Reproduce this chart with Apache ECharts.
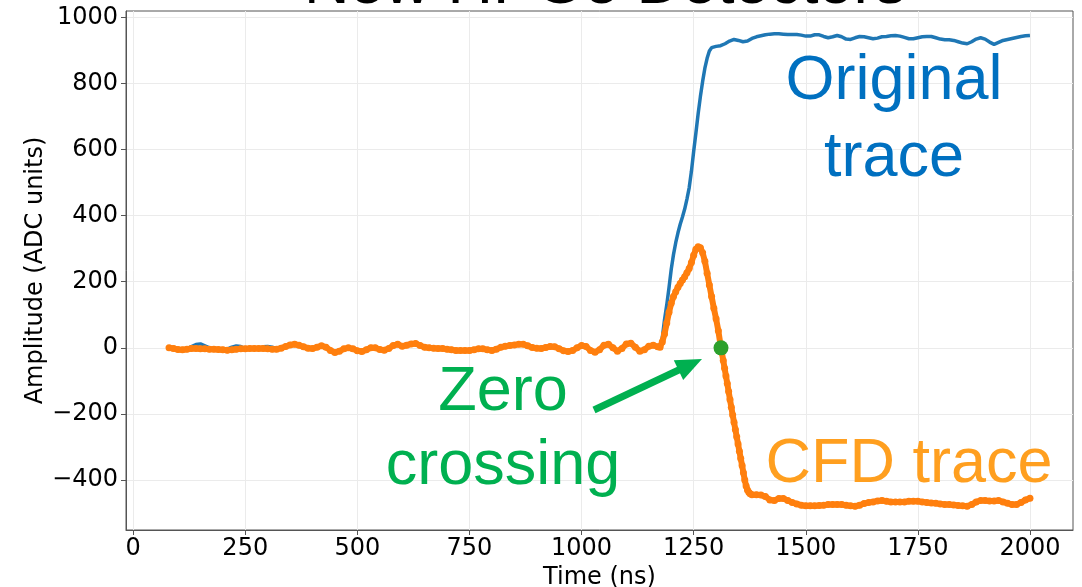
<!DOCTYPE html>
<html>
<head>
<meta charset="utf-8">
<script src="https://cdn.jsdelivr.net/npm/echarts@6/dist/echarts.min.js"></script>
<style>
  html, body { margin: 0; padding: 0; background: #fff; }
  #chart { width: 1082px; height: 587px; }
</style>
</head>
<body>
<div id="chart"></div>
<script>
// Original preamplifier trace: sample times (ns) and amplitudes (ADC units)
const origTime = [
  80, 90, 100, 110, 120, 130, 140, 150, 160, 170,
  180, 190, 200, 210, 220, 230, 240, 250, 260, 270,
  280, 290, 300, 310, 320, 330, 340, 350, 360, 370,
  380, 390, 400, 410, 420, 430, 440, 450, 460, 470,
  480, 490, 500, 510, 520, 530, 540, 550, 560, 570,
  580, 590, 600, 610, 620, 630, 640, 650, 660, 670,
  680, 690, 700, 710, 720, 730, 740, 750, 760, 770,
  780, 790, 800, 810, 820, 830, 840, 850, 860, 870,
  880, 890, 900, 910, 920, 930, 940, 950, 960, 970,
  980, 990, 1000, 1010, 1020, 1030, 1040, 1050, 1060, 1070,
  1080, 1090, 1100, 1110, 1120, 1130, 1140, 1150, 1160, 1170,
  1175, 1180, 1185, 1190, 1195, 1200, 1205, 1210, 1215, 1220,
  1225, 1230, 1235, 1240, 1245, 1250, 1255, 1260, 1265, 1270,
  1275, 1280, 1285,
  1290, 1300, 1310, 1320, 1330, 1340, 1350, 1360, 1370, 1380,
  1390, 1400, 1410, 1420, 1430, 1440, 1450, 1460, 1470, 1480,
  1490, 1500, 1510, 1520, 1530, 1540, 1550, 1560, 1570, 1580,
  1590, 1600, 1610, 1620, 1630, 1640, 1650, 1660, 1670, 1680,
  1690, 1700, 1710, 1720, 1730, 1740, 1750, 1760, 1770, 1780,
  1790, 1800, 1810, 1820, 1830, 1840, 1850, 1860, 1870, 1880,
  1890, 1900, 1910, 1920, 1930, 1940, 1950, 1960, 1970, 1980,
  1990, 2000
];
const origAmp = [
  2, 0, -3, -4, -2, 4, 10, 12, 6, 0,
  -3, -4, -5, -4, 2, 6, 4, -2, -4, -4,
  -2, 3, 4, 2, -2, 0, 4, 9, 11, 8,
  3, -1, -3, 1, 5, 1, -9, -15, -12, -4,
  -1, -4, -11, -13, -8, -1, -1, -6, -8, -3,
  6, 10, 4, 7, 11, 12, 6, 1, -1, -2,
  -3, -4, -6, -9, -11, -10, -9, -8, -7, -4,
  -4, -7, -9, -5, 1, 4, 6, 8, 10, 10,
  5, 0, -2, -3, 0, 3, 2, -4, -10, -12,
  -9, -1, 6, 3, -9, -14, -7, 7, 10, -1,
  -11, -3, 11, 13, 1, -11, -7, 4, 7, 3,
  8, 30, 85, 130, 182, 238, 282, 318, 348, 374,
  396, 420, 450, 484, 534, 594, 650, 708, 760, 806,
  846, 876, 898,
  908, 912, 914, 920, 928, 933, 930, 926, 928, 936,
  941, 944, 947, 949, 950, 950, 949, 948, 948, 948,
  946, 943, 943, 947, 947, 942, 938, 941, 945, 941,
  934, 933, 938, 942, 941, 938, 935, 937, 941, 942,
  944, 945, 943, 939, 935, 935, 938, 941, 942, 942,
  938, 934, 932, 932, 930, 926, 922, 920, 926, 934,
  938, 934, 925, 918, 924, 930, 933, 936, 939, 942,
  944, 945
];

// Constant-fraction (CFD) trace: sample times (ns) and amplitudes (ADC units)
const cfdTime = [
  80, 90, 100, 110, 120, 130, 140, 150, 160, 170,
  180, 190, 200, 210, 220, 230, 240, 250, 260, 270,
  280, 290, 300, 310, 320, 330, 340, 350, 360, 370,
  380, 390, 400, 410, 420, 430, 440, 450, 460, 470,
  480, 490, 500, 510, 520, 530, 540, 550, 560, 570,
  580, 590, 600, 610, 620, 630, 640, 650, 660, 670,
  680, 690, 700, 710, 720, 730, 740, 750, 760, 770,
  780, 790, 800, 810, 820, 830, 840, 850, 860, 870,
  880, 890, 900, 910, 920, 930, 940, 950, 960, 970,
  980, 990, 1000, 1010, 1020, 1030, 1040, 1050, 1060, 1070,
  1080, 1090, 1100, 1110, 1120, 1130, 1140, 1150, 1160, 1170,
  1175, 1180, 1185, 1190, 1195, 1200, 1205, 1210, 1215, 1220,
  1225, 1230, 1235, 1240, 1245, 1250, 1255, 1260, 1265, 1270,
  1275, 1280, 1285, 1290, 1295, 1300, 1305, 1310,
  1313, 1316, 1319, 1322, 1325, 1328, 1331, 1334, 1337, 1340,
  1343, 1346, 1349, 1352, 1355, 1358, 1361, 1364, 1367, 1370,
  1373, 1376,
  1380, 1390, 1400, 1410, 1420, 1430, 1440, 1450, 1460, 1470,
  1480, 1490, 1500, 1510, 1520, 1530, 1540, 1550, 1560, 1570,
  1580, 1590, 1600, 1610, 1620, 1630, 1640, 1650, 1660, 1670,
  1680, 1690, 1700, 1710, 1720, 1730, 1740, 1750, 1760, 1770,
  1780, 1790, 1800, 1810, 1820, 1830, 1840, 1850, 1860, 1870,
  1880, 1890, 1900, 1910, 1920, 1930, 1940, 1950, 1960, 1970,
  1980, 1990, 2000
];
const cfdAmp = [
  0, -2, -5, -6, -4, -2, -2, -3, -3, -4,
  -4, -5, -6, -7, -6, -4, -3, -3, -2, -2,
  -2, -2, -3, -4, -4, -1, 4, 9, 11, 8,
  3, -1, -2, 2, 6, 2, -8, -14, -10, -3,
  0, -3, -9, -11, -6, 0, 0, -5, -7, -2,
  7, 11, 5, 8, 12, 13, 7, 2, 0, -1,
  -2, -2, -4, -6, -8, -8, -8, -8, -6, -3,
  -3, -6, -8, -4, 2, 5, 7, 9, 11, 11,
  6, 1, -1, -2, 1, 4, 3, -3, -9, -11,
  -8, 0, 7, 4, -8, -13, -6, 8, 11, 0,
  -10, -2, 12, 14, 2, -10, -6, 5, 8, 3,
  2, 18, 42, 75, 108, 135, 155, 170, 183, 195,
  205, 215, 227, 240, 258, 280, 298, 306, 303, 288,
  262, 226, 190, 155, 120, 88, 52, 8,
  -15, -38, -62, -85, -108, -132, -156, -180, -203, -225,
  -247, -269, -291, -313, -335, -356, -378, -400, -418, -430,
  -437, -441,
  -444, -444, -445, -450, -460, -462, -456, -456, -462, -468,
  -472, -476, -478, -478, -478, -477, -476, -474, -474, -474,
  -474, -476, -478, -479, -476, -471, -468, -466, -463, -462,
  -464, -466, -466, -466, -466, -464, -464, -464, -466, -468,
  -469, -470, -472, -474, -474, -475, -477, -478, -479, -474,
  -466, -462, -462, -463, -463, -462, -466, -470, -474, -474,
  -468, -460, -455
];

// Zero crossing of the CFD trace
const zeroCross = [[1311, 0]];

// Tick positions
const xTicks = [0, 250, 500, 750, 1000, 1250, 1500, 1750, 2000];
const yTicks = [-400, -200, 0, 200, 400, 600, 800, 1000];
const xTickStep = 250;
const yTickStep = 200;

const zip = (a, b) => a.map((t, i) => [t, b[i]]);
const minus = v => String(v).replace('-', '\u2212');

const chart = echarts.init(document.getElementById('chart'), null, { renderer: 'canvas' });

const ANNOT_FONT = '"Liberation Sans", Arial, sans-serif';
const TICK_FONT = '"DejaVu Sans", sans-serif';
const AXIS_FS = 24;
const green = '#00B050';

// Arrow pointing at the zero crossing
const tail = [594, 410], tip = [702, 359];
const dx = tip[0] - tail[0], dy = tip[1] - tail[1];
const len = Math.hypot(dx, dy);
const ux = dx / len, uy = dy / len;
const headLen = 26, headHalf = 11;
const baseC = [tip[0] - headLen * ux, tip[1] - headLen * uy];
const px = -uy, py = ux;

function annot(text, x, y, color) {
  return {
    type: 'text', x: x, y: y, z: 10,
    style: { text: text, fill: color, font: '63px ' + ANNOT_FONT,
             textAlign: 'center', textVerticalAlign: 'middle' }
  };
}

const option = {
  animation: false,
  backgroundColor: '#ffffff',
  grid: {
    left: 126, right: 9, top: 11, bottom: 57,
    outerBoundsMode: 'none', containLabel: false,
    show: true, borderColor: '#555', borderWidth: 1, backgroundColor: 'transparent'
  },
  xAxis: {
    type: 'value',
    min: -16, max: 2096,
    minInterval: xTickStep, maxInterval: xTickStep, splitNumber: 8,
    name: 'Time (ns)',
    nameLocation: 'middle', nameGap: 31,
    nameTextStyle: { fontFamily: TICK_FONT, fontSize: AXIS_FS, color: '#000' },
    axisLine: { show: true, onZero: false, lineStyle: { color: '#555', width: 1 } },
    axisTick: { show: true, inside: false, length: 5, customValues: xTicks, lineStyle: { color: '#555' } },
    axisLabel: {
      fontFamily: TICK_FONT, fontSize: AXIS_FS, color: '#000', margin: 7,
      customValues: xTicks,
      formatter: v => minus(v)
    },
    splitLine: { show: true, lineStyle: { color: '#ebebeb', width: 1 } }
  },
  yAxis: {
    type: 'value',
    min: -551, max: 1019,
    minInterval: yTickStep, maxInterval: yTickStep, splitNumber: 8,
    name: 'Amplitude (ADC units)',
    nameLocation: 'middle', nameGap: 78, nameRotate: 90,
    nameMoveOverlap: false,
    nameTextStyle: { fontFamily: TICK_FONT, fontSize: AXIS_FS, color: '#000' },
    axisLine: { show: true, onZero: false, lineStyle: { color: '#555', width: 1 } },
    axisTick: { show: true, inside: false, length: 5, customValues: yTicks, lineStyle: { color: '#555' } },
    axisLabel: {
      fontFamily: TICK_FONT, fontSize: AXIS_FS, color: '#000', margin: 8,
      customValues: yTicks,
      formatter: v => minus(v)
    },
    splitLine: { show: true, lineStyle: { color: '#ebebeb', width: 1 } }
  },
  series: [
    {
      name: 'Original trace',
      type: 'line',
      data: zip(origTime, origAmp),
      showSymbol: false,
      lineStyle: { color: '#1f77b4', width: 3.5 },
      itemStyle: { color: '#1f77b4' },
      z: 2
    },
    {
      name: 'CFD trace',
      type: 'line',
      data: zip(cfdTime, cfdAmp),
      symbol: 'circle',
      symbolSize: 7,
      showSymbol: true,
      showAllSymbol: true,
      lineStyle: { color: '#ff7f0e', width: 6 },
      itemStyle: { color: '#ff7f0e' },
      z: 3
    },
    {
      name: 'Zero crossing',
      type: 'scatter',
      data: zeroCross,
      symbol: 'circle',
      symbolSize: 15,
      itemStyle: { color: '#2ca02c', opacity: 1 },
      z: 4
    }
  ],
  graphic: [
    {
      type: 'text', x: 605, y: -14, z: 10,
      style: { text: 'New HPGe Detectors', fill: '#000', font: '63px ' + ANNOT_FONT,
               textAlign: 'center', textVerticalAlign: 'middle' }
    },
    annot('Original', 894, 82, '#0070C0'),
    annot('trace', 894, 159, '#0070C0'),
    annot('Zero', 503, 393, green),
    annot('crossing', 503, 467, green),
    annot('CFD trace', 909, 465, '#FF9F1F'),
    {
      type: 'line', z: 10,
      shape: { x1: tail[0], y1: tail[1], x2: baseC[0] + 2 * ux, y2: baseC[1] + 2 * uy },
      style: { stroke: green, lineWidth: 7 }
    },
    {
      type: 'polygon', z: 10,
      shape: { points: [
        tip,
        [baseC[0] + headHalf * px, baseC[1] + headHalf * py],
        [baseC[0] - headHalf * px, baseC[1] - headHalf * py]
      ] },
      style: { fill: green }
    }
  ]
};

chart.setOption(option);
</script>
</body>
</html>
